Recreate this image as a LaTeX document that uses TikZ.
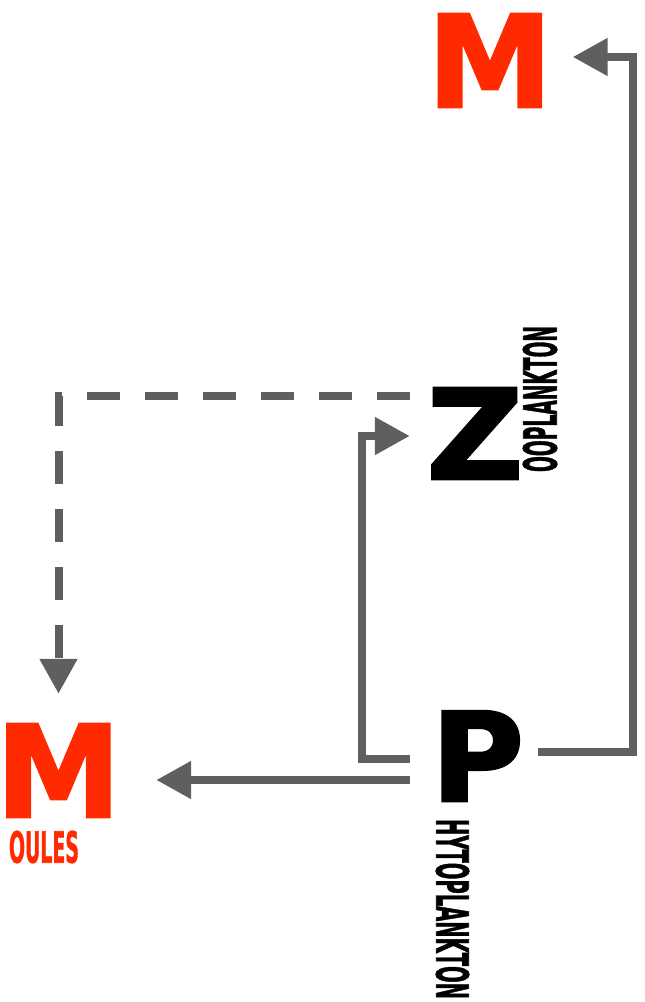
\documentclass[tikz,border=0pt]{standalone}
\usepackage{fontspec}
\usepackage{graphicx}
\usetikzlibrary{arrows.meta}
\newfontfamily\capfont{DejaVu Sans}[FakeBold=2]
\newfontfamily\wordfont{DejaVu Sans Condensed}[FakeBold=1.5]

\definecolor{mred}{RGB}{255,42,0}
\definecolor{flowgray}{RGB}{95,95,95}

\tikzset{
  capital/.style={inner sep=0pt, font=\capfont\bfseries},
  word/.style={inner sep=0pt, font=\wordfont\bfseries},
  flow/.style={draw=flowgray, line width=8pt, -{Triangle[length=35pt,width=36pt]}},
}

\begin{document}
\begin{tikzpicture}[x=1pt,y=-1pt]%[show background grid]
\useasboundingbox (0,0) rectangle (645,1002);

\node[capital,text=mred] (mtop) at (490,60.5) {\resizebox{107pt}{93pt}{\kern-0.072em M\kern-0.072em}};

\node[capital] (zoo) at (475,433.5) {\resizebox{97pt}{91pt}{Z}};
\node[word,rotate=90] (zooword) at (540,399) {\resizebox{146pt}{34pt}{OOPLANKTON}};

\node[capital] (phyto) at (477.5,756) {\resizebox{93pt}{90pt}{P}};
\node[word,rotate=-90] (phytoword) at (452.5,909) {\resizebox{180pt}{33pt}{HYTOPLANKTON}};

\node[capital,text=mred] (moules) at (58.5,770.5) {\resizebox{107pt}{93pt}{\kern-0.072em M\kern-0.072em}};
\node[word,text=mred] (moulesword) at (44,847) {\resizebox{70pt}{32pt}{OULES}};

\coordinate (rcorner) at (633,752);

\draw[flow] ([xshift=14pt,yshift=4pt]phyto.east) -- (rcorner) |- ([xshift=29pt,yshift=3.5pt]mtop.east);
\draw[flow] ([xshift=-21pt,yshift=-3pt]phyto.west) -- ++(-48,0) |- ([xshift=-16.5pt,yshift=-2.5pt]zoo.west);
\draw[flow] ([xshift=-21pt,yshift=-24pt]phyto.west) -- ([xshift=44pt,yshift=-9.5pt]moules.east);
\draw[flow,dash pattern=on 33pt off 25pt] ([xshift=-16.5pt,yshift=37.5pt]zoo.west) -| ([yshift=30pt]moules.north);

\end{tikzpicture}
\end{document}
